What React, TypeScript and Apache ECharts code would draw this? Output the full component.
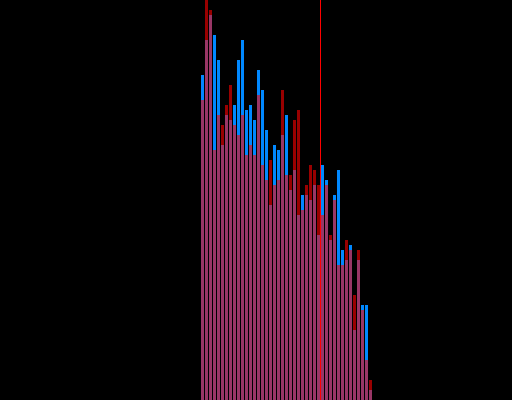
import React, { useEffect, useRef } from "react";
import * as echarts from "echarts";

const categories: string[] = Array.from({ length: 43 }, (_, i) => String(i + 1));

const blueValues: number[] = [
  325, 360, 385, 365, 340, 255, 285, 280, 295, 340, 360, 290, 295, 280, 330,
  310, 270, 195, 255, 250, 265, 285, 210, 230, 185, 205, 205, 200, 215, 165,
  235, 220, 160, 205, 230, 150, 140, 155, 70, 140, 95, 95, 10,
];

const redValues: number[] = [
  300, 400, 390, 250, 285, 275, 295, 315, 275, 265, 285, 245, 255, 245, 305,
  235, 220, 240, 215, 220, 310, 225, 225, 280, 290, 190, 215, 235, 230, 215,
  185, 215, 165, 200, 135, 135, 160, 150, 105, 150, 90, 40, 20,
];

const markerPosition = 30;
const yMax = 400;

export default function App() {
  const ref = useRef<HTMLDivElement>(null);
  useEffect(() => {
    if (!ref.current) return;
    const chart = echarts.init(ref.current, null, { renderer: "svg" });
    chart.setOption({
      animation: false,
      backgroundColor: "#000000",
      grid: { left: 200.5, top: 0, width: 172, height: 400 },
      xAxis: [
        { type: "category", data: categories, show: false, boundaryGap: true },
        { type: "value", min: 0, max: categories.length, show: false },
      ],
      yAxis: { type: "value", min: 0, max: yMax, show: false },
      series: [
        {
          type: "bar",
          data: blueValues,
          barWidth: 3,
          barGap: "-100%",
          itemStyle: { color: "#0088ff" },
        },
        {
          type: "bar",
          data: redValues,
          barWidth: 3,
          barGap: "-100%",
          itemStyle: { color: "#ff0000", opacity: 0.6 },
        },
        {
          type: "line",
          xAxisIndex: 1,
          data: [
            [markerPosition, 0],
            [markerPosition, yMax],
          ],
          symbol: "none",
          lineStyle: { color: "#ff0000", width: 1 },
        },
      ],
    });
    return () => chart.dispose();
  }, []);
  return (
    <div
      ref={ref}
      style={{ position: "fixed", left: 0, top: 0, width: 512, height: 400 }}
    />
  );
}
